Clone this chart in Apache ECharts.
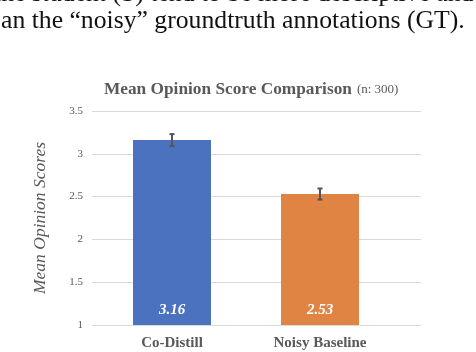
<!DOCTYPE html>
<html><head><meta charset="utf-8">
<script src="https://cdn.jsdelivr.net/npm/echarts@6/dist/echarts.min.js"></script>
<style>html,body{margin:0;padding:0;background:#fff}#c{width:476px;height:352px}</style>
</head><body><div id="c"></div>
<script>
const categories = ['Co-Distill', 'Noisy Baseline'];
const scores = [3.16, 2.53];
const errors = [0.07, 0.065];
const barColors = ['#4a72be', '#e08443'];
const yTicks = [1, 1.5, 2, 2.5, 3, 3.5];
const titleMain = 'Mean Opinion Score Comparison';
const titleSub = '(n: 300)';
const yName = 'Mean Opinion Scores';
const paperLine1 = 'the student (S) tend to be more descriptive and';
const paperLine2 = 'an the \u201cnoisy\u201d groundtruth annotations (GT).';

const serif = '"Liberation Serif", "Times New Roman", serif';
const gray = '#595959';
const chart = echarts.init(document.getElementById('c'));
chart.setOption({
  animation: false,
  backgroundColor: '#fff',
  title: {
    left: 99, top: 76,
    text: '{a|' + titleMain + '} {b|' + titleSub + '}',
    textStyle: { rich: {
      a: { fontFamily: serif, fontWeight: 'bold', fontSize: 17.3, color: gray },
      b: { fontFamily: serif, fontWeight: 'normal', fontSize: 13, color: gray }
    } }
  },
  graphic: [
    { type: 'text', left: -6, top: -19, style: { text: paperLine1, font: '25.7px ' + serif, fill: '#111' } },
    { type: 'text', left: 1, top: 8, style: { text: paperLine2, font: '25.7px ' + serif, fill: '#111' } }
  ],
  grid: [
    { left: 92, right: 55, top: 111, bottom: 27 },
    { left: 98, right: 82, top: 111, bottom: 27 }
  ],
  xAxis: [
    { gridIndex: 0, type: 'category', data: categories, show: false },
    { gridIndex: 1, type: 'category', data: categories,
      axisLine: { show: false }, axisTick: { show: false },
      axisLabel: { margin: 11, fontFamily: serif, fontWeight: 'bold', fontSize: 15, color: gray } }
  ],
  yAxis: [
    { gridIndex: 0, type: 'value', min: yTicks[0], max: yTicks[yTicks.length - 1], interval: 0.5,
      name: yName, nameLocation: 'middle', nameGap: 43,
      nameTextStyle: { fontFamily: serif, fontStyle: 'italic', fontSize: 17.5, color: gray },
      axisLine: { show: false }, axisTick: { show: false },
      axisLabel: { margin: 9, fontFamily: serif, fontSize: 11, color: gray },
      splitLine: { lineStyle: { color: '#d9d9d9', width: 1 } } },
    { gridIndex: 1, type: 'value', min: yTicks[0], max: yTicks[yTicks.length - 1], interval: 0.5, show: false }
  ],
  series: [
    { type: 'bar', xAxisIndex: 1, yAxisIndex: 1, barWidth: 78,
      data: scores.map((v, i) => ({ value: v, itemStyle: { color: barColors[i] } })),
      label: { show: true, position: 'insideBottom', distance: 7,
        fontFamily: serif, fontStyle: 'italic', fontWeight: 'bold', fontSize: 15, color: '#fff',
        formatter: p => p.value.toFixed(2) } },
    { type: 'custom', xAxisIndex: 1, yAxisIndex: 1, z: 10,
      data: scores.map((v, i) => [i, v - errors[i], v + errors[i]]),
      renderItem: function (params, api) {
        const lo = api.coord([api.value(0), api.value(1)]);
        const hi = api.coord([api.value(0), api.value(2)]);
        const x = Math.round(lo[0]);
        const st = { stroke: '#555', lineWidth: 2 };
        return { type: 'group', children: [
          { type: 'line', shape: { x1: x, y1: lo[1], x2: x, y2: hi[1] }, style: st },
          { type: 'line', shape: { x1: x - 2.5, y1: lo[1], x2: x + 2.5, y2: lo[1] }, style: st },
          { type: 'line', shape: { x1: x - 2.5, y1: hi[1], x2: x + 2.5, y2: hi[1] }, style: st }
        ] };
      } }
  ]
});
</script></body></html>
